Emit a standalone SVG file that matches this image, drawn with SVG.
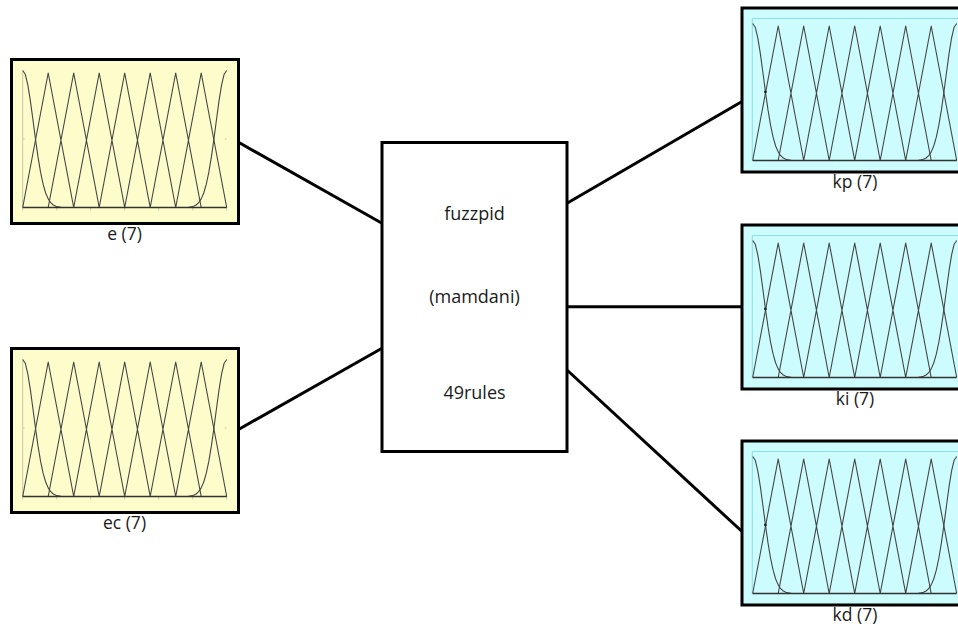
<svg xmlns="http://www.w3.org/2000/svg" xmlns:xlink="http://www.w3.org/1999/xlink" width="958" height="624" viewBox="0 0 958 624">
<style>
.in{fill:#fdfccb;stroke:#000;stroke-width:3}
.out{fill:#ccfcfd;stroke:#000;stroke-width:3}
.sys{fill:#fff;stroke:#000;stroke-width:3}
.mf{fill:none;stroke:#454545;stroke-width:1.1;stroke-linejoin:round}
.ax{fill:none;stroke:#333;stroke-width:1.4}
.faint{fill:none;stroke:#c8c8b0;stroke-width:1}
.inner{fill:none;stroke:#8fdde6;stroke-width:1}
.lbl{font-family:"Open Sans","Noto Sans","Liberation Sans",sans-serif;font-size:17.5px;fill:#1a1a1a;text-anchor:middle}
.big{font-size:18px}
.edge{stroke:#000;stroke-width:3;fill:none}
</style>
<defs>
<g id="mf">
<path class="mf" d="M0,137L25.5,2.5L51,137M25.5,137L51,2.5L76.5,137M51,137L76.5,2.5L102,137M76.5,137L102,2.5L127.5,137M102,137L127.5,2.5L153,137M127.5,137L153,2.5L178.5,137M153,137L178.5,2.5L204,137"/>
<polyline class="mf" points="0,0 2.55,3.7 5.1,14.4 7.65,30.1 10.2,49 12.75,68.4 15.3,86.4 17.85,101.7 20.4,113.7 22.95,122.5 25.5,128.4 28.05,132.2 30.6,134.5 33.15,135.7 35.7,136.4 38.25,136.7 43.35,137"/>
<polyline class="mf" points="204,0 201.45,3.7 198.9,14.4 196.35,30.1 193.8,49 191.25,68.4 188.7,86.4 186.15,101.7 183.6,113.7 181.05,122.5 178.5,128.4 175.95,132.2 173.4,134.5 170.85,135.7 168.3,136.4 165.75,136.7 160.65,137"/>
<line class="ax" x1="0" y1="137" x2="204" y2="137"/>
</g>
<g id="inaxes">
<line class="faint" x1="0" y1="0" x2="0" y2="137"/>
<path class="faint" d="M0,137v3M34,137v3M68,137v3M102,137v3M136,137v3M170,137v3M204,137v3M0,68.5h2M204,68.5h-2"/>
</g>
</defs>

<g id="connectors">
<line class="edge" x1="238.5" y1="142.3" x2="382" y2="223.3"/>
<line class="edge" x1="238.5" y1="429.5" x2="382" y2="348.3"/>
<line class="edge" x1="567" y1="203.3" x2="742" y2="101.5"/>
<line class="edge" x1="567" y1="306.7" x2="742" y2="306.7"/>
<line class="edge" x1="567" y1="370" x2="742" y2="531.5"/>
</g>

<g id="node-e">
<rect class="in" x="11.5" y="59.5" width="227" height="164"/>
<use xlink:href="#inaxes" transform="translate(22.7,70.5)"/>
<use xlink:href="#mf" transform="translate(22.7,70.5)"/>
<text class="lbl" x="124.5" y="240">e (7)</text>
</g>

<g id="node-ec">
<rect class="in" x="11.5" y="348.5" width="227" height="164"/>
<use xlink:href="#inaxes" transform="translate(22.7,359.5)"/>
<use xlink:href="#mf" transform="translate(22.7,359.5)"/>
<text class="lbl" x="124.5" y="529">ec (7)</text>
</g>

<g id="node-fuzzpid">
<rect class="sys" x="382" y="142.5" width="185" height="309"/>
<text class="lbl big" x="474.5" y="220">fuzzpid</text>
<text class="lbl big" x="474.5" y="302.7">(mamdani)</text>
<text class="lbl big" x="474.5" y="399.3">49rules</text>
</g>

<g id="node-kp">
<rect class="out" x="742" y="8" width="227" height="164"/>
<path class="inner" d="M752.3,161V18.5H960"/>
<use xlink:href="#mf" transform="translate(752.7,23.5)"/>
<circle cx="765.4" cy="91.9" r="1.4" fill="#222"/>
<text class="lbl" x="855" y="187.5">kp (7)</text>
</g>

<g id="node-ki">
<rect class="out" x="742" y="225" width="227" height="164"/>
<path class="inner" d="M752.3,378V235.5H960"/>
<use xlink:href="#mf" transform="translate(752.7,240.5)"/>
<circle cx="765.4" cy="308.9" r="1.4" fill="#222"/>
<text class="lbl" x="855" y="404.5">ki (7)</text>
</g>

<g id="node-kd">
<rect class="out" x="742" y="441" width="227" height="164"/>
<path class="inner" d="M752.3,594V451.5H960"/>
<use xlink:href="#mf" transform="translate(752.7,456.5)"/>
<circle cx="765.4" cy="524.9" r="1.4" fill="#222"/>
<text class="lbl" x="855" y="620.5">kd (7)</text>
</g>
</svg>
